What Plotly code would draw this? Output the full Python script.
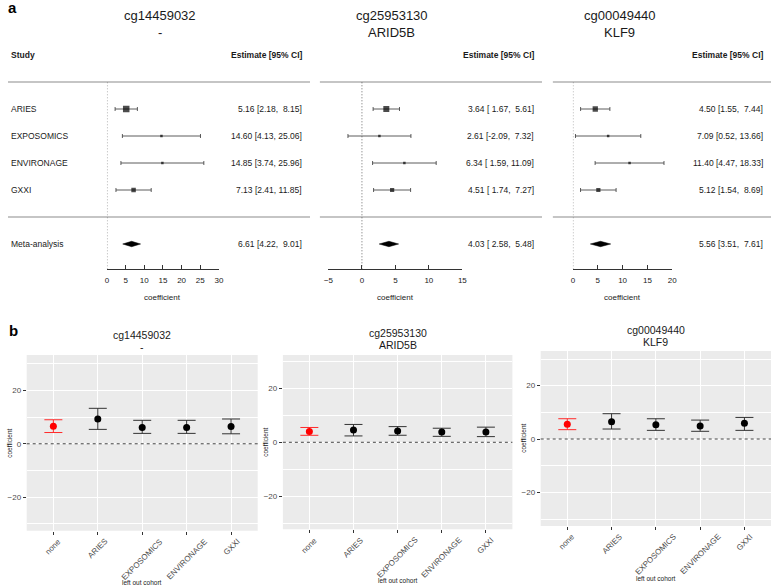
import plotly.graph_objects as go

W, H = 777, 586
FONT = "Liberation Sans, Arial, Helvetica, sans-serif"

# ---------------- data ----------------
cpgs = ["cg14459032", "cg25953130", "cg00049440"]
genes = ["-", "ARID5B", "KLF9"]
studies = ["ARIES", "EXPOSOMICS", "ENVIRONAGE", "GXXI"]

study_est = [[5.16, 14.60, 14.85, 7.13], [3.64, 2.61, 6.34, 4.51], [4.50, 7.09, 11.40, 5.12]]
study_lo = [[2.18, 4.13, 3.74, 2.41], [1.67, -2.09, 1.59, 1.74], [1.55, 0.52, 4.47, 1.54]]
study_hi = [[8.15, 25.06, 25.96, 11.85], [5.61, 7.32, 11.09, 7.27], [7.44, 13.66, 18.33, 8.69]]
meta_est = [6.61, 4.03, 5.56]
meta_lo = [4.22, 2.58, 3.51]
meta_hi = [9.01, 5.48, 7.61]

forest_ticks = [[0, 5, 10, 15, 20, 25, 30], [-5, 0, 5, 10, 15], [0, 5, 10, 15, 20]]

cohorts = ["none", "ARIES", "EXPOSOMICS", "ENVIRONAGE", "GXXI"]
loo_est = [[6.61, 9.3, 6.1, 6.1, 6.5], [4.03, 4.5, 4.2, 3.8, 3.8], [5.56, 6.5, 5.4, 4.9, 5.9]]
loo_lo = [[4.22, 5.4, 3.9, 3.9, 3.75], [2.58, 2.35, 2.6, 2.2, 2.1], [3.51, 3.75, 3.25, 2.9, 3.25]]
loo_hi = [[9.01, 13.3, 8.8, 8.8, 9.3], [5.48, 6.6, 5.8, 5.2, 5.6], [7.61, 9.5, 7.6, 7.1, 8.1]]
loo_yticks = [-20, 0, 20]
loo_minor = [-30, -10, 10, 30]

# ---------------- layout helpers (pixels -> paper) ----------------
def px(x):
    return x / W

def py(y):
    return 1 - y / H

fig = go.Figure()
annotations = []
shapes = []
TXT = "#1a1a1a"

# ---------------- panel a: forest plots ----------------
study_rows = [5, 4, 3, 2]
meta_row = 0
header_row = 7
line_rows = [6, 1]
row_px = 27.0
row5_px = 109.0
axis_px = 269.3
top_px = 40.0
y_lo = 5 - (axis_px - row5_px) / row_px
y_hi = 5 + (row5_px - top_px) / row_px
ydom = [py(axis_px), py(top_px)]

def row_pixel(r):
    return row5_px + (5 - r) * row_px

forest_dom = [(103.3, 216.7), (327.7, 463.3), (575.3, 676.0)]
forest_rng = [(0, 30), (-5, 15), (0, 20)]
title_cx = [157, 392, 623]
est_right = [303, 538, 770]
line_ext = [(3, 309), (319, 544), (555, 776)]
sq_sizes = [[6.5, 2.5, 2.5, 4.5], [6, 2.5, 2.5, 4.2], [5.3, 2.5, 2.5, 4.2]]
lo_w = [4, 5, 4]
FS = 8.5

# separators as 1px filled bars (no outline)
for i in range(3):
    for r in line_rows:
        yc = row_pixel(r)
        shapes.append(dict(type="rect", xref="paper", yref="paper",
                           x0=px(line_ext[i][0]), x1=px(line_ext[i][1]),
                           y0=py(yc + 0.5), y1=py(yc - 0.5),
                           fillcolor="#8c8c8c", line=dict(width=0)))

for i in range(3):
    xa = "x" if i == 0 else f"x{i+1}"
    xkey = "xaxis" if i == 0 else f"xaxis{i+1}"
    e, lo, hi = study_est[i], study_lo[i], study_hi[i]
    fig.add_trace(go.Scatter(
        x=e, y=study_rows, xaxis=xa, yaxis="y", mode="markers",
        marker=dict(symbol="square", size=sq_sizes[i], color="black", line=dict(width=0)),
        error_x=dict(type="data", symmetric=False,
                     array=[h - v for h, v in zip(hi, e)],
                     arrayminus=[v - l for v, l in zip(e, lo)],
                     width=2, thickness=0.8, color="#333333"),
        showlegend=False, hoverinfo="skip"))
    # summary diamond
    hgt = 2.7 / row_px
    fig.add_trace(go.Scatter(
        x=[meta_lo[i], meta_est[i], meta_hi[i], meta_est[i], meta_lo[i]],
        y=[meta_row, meta_row + hgt, meta_row, meta_row - hgt, meta_row],
        xaxis=xa, yaxis="y", mode="lines", fill="toself", fillcolor="black",
        line=dict(color="black", width=0.5), showlegend=False, hoverinfo="skip"))
    fig.layout[xkey] = dict(
        domain=[px(forest_dom[i][0]), px(forest_dom[i][1])], range=list(forest_rng[i]),
        anchor="y", tickvals=forest_ticks[i], ticks="inside", ticklen=4, tickwidth=0.8,
        tickcolor="#333333", showline=True, linecolor="#333333", linewidth=0.8,
        showgrid=False, zeroline=False, ticklabelstandoff=3,
        tickfont=dict(size=8, color=TXT, family=FONT), fixedrange=True)
    # dotted zero line
    shapes.append(dict(type="line", xref=xa, yref="y", x0=0, x1=0,
                       y0=y_lo, y1=line_rows[0],
                       line=dict(color="#444444", width=0.8, dash="1px,2px")))
    # titles
    for txt, yy in zip((cpgs[i], genes[i]), (15, 33)):
        annotations.append(dict(text=txt, x=px(title_cx[i]), y=py(yy), xref="paper",
                                yref="paper", showarrow=False, xanchor="center",
                                yanchor="middle", font=dict(size=13, color=TXT, family=FONT)))
    # estimate column
    annotations.append(dict(text="<b>Estimate [95% CI]</b>", x=px(est_right[i]),
                            y=header_row, xref="paper", yref="y", showarrow=False,
                            xanchor="right", yanchor="middle",
                            font=dict(size=FS, color=TXT, family=FONT)))
    w = lo_w[i]
    for r, v, l, h in zip(study_rows + [meta_row], e + [meta_est[i]], lo + [meta_lo[i]],
                          hi + [meta_hi[i]]):
        annotations.append(dict(text=f"{v:.2f} [{l:{w}.2f}, {h:5.2f}]", x=px(est_right[i]),
                                y=r, xref="paper", yref="y", showarrow=False,
                                xanchor="right", yanchor="middle",
                                font=dict(size=FS, color=TXT, family=FONT)))
    cx = (forest_dom[i][0] + forest_dom[i][1]) / 2
    annotations.append(dict(text="coefficient", x=px(cx), y=py(297), xref="paper", yref="paper",
                            showarrow=False, xanchor="center", yanchor="middle",
                            font=dict(size=8, color=TXT, family=FONT)))

# study labels (left column)
annotations.append(dict(text="<b>Study</b>", x=px(4), y=header_row, xref="paper",
                        yref="y", showarrow=False, xanchor="left", yanchor="middle",
                        font=dict(size=FS, color=TXT, family=FONT)))
for r, s in zip(study_rows + [meta_row], studies + ["Meta-analysis"]):
    annotations.append(dict(text=s, x=px(4), y=r, xref="paper", yref="y",
                            showarrow=False, xanchor="left", yanchor="middle",
                            font=dict(size=FS, color=TXT, family=FONT)))

fig.layout.yaxis = dict(domain=ydom, range=[y_lo, y_hi], visible=False, showline=False,
                        showgrid=False, zeroline=False, fixedrange=True)

# ---------------- panel b: leave-one-out ----------------
b_xdom = [(22, 256), (281.5, 514), (542.7, 776)]
b_ydom = [(355, 530.7), (355, 529.3), (351, 526)]
b_yrng = [(-32.6, 33.3), (-32.2, 32.3), (-32.6, 33.0)]
b_title_y = [(335, 347), (333, 345), (330, 341.7)]
b_ytitle_x = [5, 264, 525]
b_xtitle_y = [582.5, 580, 578]

for i in range(3):
    n = i + 4
    xa, ya = f"x{n}", f"y{n}"
    e, lo, hi = loo_est[i], loo_lo[i], loo_hi[i]
    for idxs, col, bcol in (([0], "#FF0000", "#FF2a2a"), ([1, 2, 3, 4], "black", "#333333")):
        fig.add_trace(go.Scatter(
            x=[cohorts[k] for k in idxs], y=[e[k] for k in idxs], xaxis=xa, yaxis=ya,
            mode="markers", marker=dict(size=7, color=col),
            error_y=dict(type="data", symmetric=False,
                         array=[hi[k] - e[k] for k in idxs],
                         arrayminus=[e[k] - lo[k] for k in idxs],
                         width=9, thickness=1, color=bcol),
            showlegend=False, hoverinfo="skip"))
    fig.layout[f"xaxis{n}"] = dict(
        domain=[px(b_xdom[i][0]), px(b_xdom[i][1])], anchor=ya, type="category",
        categoryorder="array", categoryarray=cohorts, range=[-0.6, 4.6],
        showgrid=True, gridcolor="white", gridwidth=1, zeroline=False, showline=False,
        ticks="outside", ticklen=3, tickcolor="#333333", tickwidth=0.8,
        showticklabels=False, fixedrange=True)
    fig.layout[f"yaxis{n}"] = dict(
        domain=[py(b_ydom[i][1]), py(b_ydom[i][0])], anchor=xa, range=list(b_yrng[i]),
        tickvals=loo_yticks, showgrid=True, gridcolor="white", gridwidth=1, zeroline=False,
        showline=False, ticks="outside", ticklen=3, tickcolor="#333333", tickwidth=0.8,
        tickfont=dict(size=8, color="#4D4D4D", family=FONT),
        minor=dict(tickvals=loo_minor, showgrid=True, gridcolor="white", gridwidth=0.5, ticks=""),
        fixedrange=True)
    shapes.append(dict(type="rect", xref=f"{xa} domain", yref=f"{ya} domain", x0=0, x1=1, y0=0,
                       y1=1, fillcolor="#EBEBEB", line=dict(width=0), layer="below"))
    shapes.append(dict(type="line", xref=f"{xa} domain", yref=ya, x0=0, x1=1, y0=0, y1=0,
                       line=dict(color="#444444", width=1, dash="3px,3px"), layer="above"))
    # rotated category labels (centred under each tick, like ggplot)
    for k, c in enumerate(cohorts):
        annotations.append(dict(text=c, x=k, y=py(b_ydom[i][1] + 5), xref=xa, yref="paper",
                                showarrow=False, xanchor="center", yanchor="top",
                                textangle=-45, borderpad=0,
                                font=dict(size=8, color="#4D4D4D", family=FONT)))
    cx = (b_xdom[i][0] + b_xdom[i][1]) / 2
    for txt, yy in zip((cpgs[i], genes[i]), b_title_y[i]):
        annotations.append(dict(text=txt, x=px(cx), y=py(yy), xref="paper", yref="paper",
                                showarrow=False, xanchor="center", yanchor="middle",
                                font=dict(size=10.5, color=TXT, family=FONT)))
    annotations.append(dict(text="left out cohort", x=px(cx), y=py(b_xtitle_y[i]), xref="paper",
                            yref="paper", showarrow=False, xanchor="center", yanchor="middle",
                            font=dict(size=6.5, color=TXT, family=FONT)))
    cy = (b_ydom[i][0] + b_ydom[i][1]) / 2
    annotations.append(dict(text="coefficient", x=px(b_ytitle_x[i]), y=py(cy), xref="paper",
                            yref="paper", showarrow=False, xanchor="center", yanchor="middle",
                            textangle=-90, font=dict(size=6.5, color=TXT, family=FONT)))

# panel letters
annotations.append(dict(text="<b>a</b>", x=px(1), y=py(8), xref="paper", yref="paper",
                        showarrow=False, xanchor="left", yanchor="middle",
                        font=dict(size=15, color="black", family=FONT)))
annotations.append(dict(text="<b>b</b>", x=px(2), y=py(330), xref="paper", yref="paper",
                        showarrow=False, xanchor="left", yanchor="middle",
                        font=dict(size=15, color="black", family=FONT)))

fig.update_layout(width=W, height=H, autosize=False, margin=dict(l=0, r=0, t=0, b=0),
                  paper_bgcolor="white", plot_bgcolor="rgba(0,0,0,0)",
                  annotations=annotations, shapes=shapes, font=dict(family=FONT))

fig.write_html("out.html", config={"displayModeBar": False},
               post_script="document.body.style.margin='0';document.body.style.overflow='hidden';")
